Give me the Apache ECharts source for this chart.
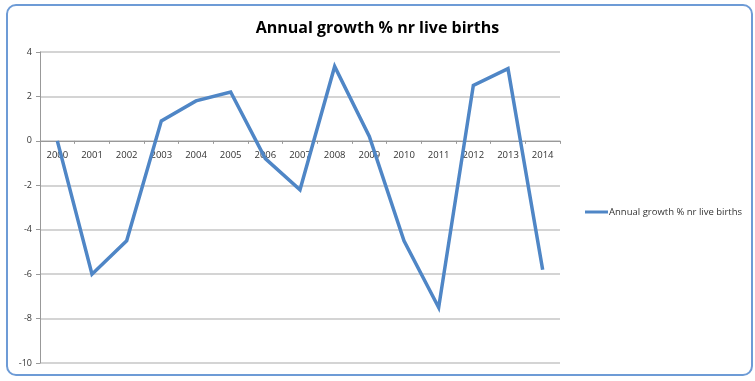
<!DOCTYPE html>
<html>
<head>
<meta charset="utf-8">
<script src="https://cdn.jsdelivr.net/npm/echarts@6/dist/echarts.min.js"></script>
<style>
html,body{margin:0;padding:0;background:#fff;}
#c{width:755px;height:381px;}
</style>
</head>
<body>
<div id="c"></div>
<script>
const titleText = 'Annual growth % nr live births';
const seriesName = 'Annual growth % nr live births';
const years = ['2000','2001','2002','2003','2004','2005','2006','2007','2008','2009','2010','2011','2012','2013','2014'];
const growth = [0, -6.0, -4.5, 0.9, 1.8, 2.2, -0.8, -2.2, 3.35, 0.2, -4.5, -7.5, 2.5, 3.25, -5.8];
const yMin = -10, yMax = 4, yStep = 2;

const gridTop = 52, gridBottom = 18, chartH = 381;
const plotH = chartH - gridTop - gridBottom;
const zeroOffset = -plotH * (0 - yMin) / (yMax - yMin);

const chart = echarts.init(document.getElementById('c'), null, {renderer: 'canvas'});
chart.setOption({
  animation: false,
  backgroundColor: '#ffffff',
  textStyle: {fontFamily: 'Open Sans, Liberation Sans, sans-serif'},
  title: {
    text: titleText,
    left: 'center',
    top: 15,
    textStyle: {fontSize: 16, fontWeight: 'bold', color: '#000', fontFamily: 'Open Sans, sans-serif'}
  },
  graphic: [{
    type: 'rect',
    shape: {x: 7, y: 5, width: 745, height: 370, r: 9},
    style: {fill: 'none', stroke: '#6d9bd6', lineWidth: 2},
    silent: true,
    z: -1
  }],
  legend: {
    data: [seriesName],
    left: 580,
    top: 202,
    icon: 'rect',
    itemWidth: 23,
    itemHeight: 3,
    textStyle: {fontSize: 9.5, color: '#333', padding: [0, 0, 0, -4]}
  },
  grid: {left: 40, right: 195, top: gridTop, bottom: gridBottom, containLabel: false},
  xAxis: {
    type: 'category',
    data: years,
    boundaryGap: true,
    position: 'bottom',
    offset: zeroOffset,
    axisLine: {onZero: false, lineStyle: {color: '#999', width: 1}},
    axisTick: {show: true, length: 3, lineStyle: {color: '#999'}},
    axisLabel: {fontSize: 9.5, color: '#333', margin: 9, interval: 0}
  },
  yAxis: {
    type: 'value',
    min: yMin, max: yMax, interval: yStep,
    axisLine: {show: true, lineStyle: {color: '#999'}},
    axisTick: {show: true, length: 4, lineStyle: {color: '#999'}},
    axisLabel: {fontSize: 9, color: '#333', margin: 8},
    splitLine: {lineStyle: {color: '#c6c6c6', width: 1.5}}
  },
  series: [{
    name: seriesName,
    type: 'line',
    data: growth,
    symbol: 'none',
    itemStyle: {color: '#4f86c6'},
    lineStyle: {color: '#4f86c6', width: 3.5, join: 'miter'}
  }]
});
</script>
</body>
</html>
